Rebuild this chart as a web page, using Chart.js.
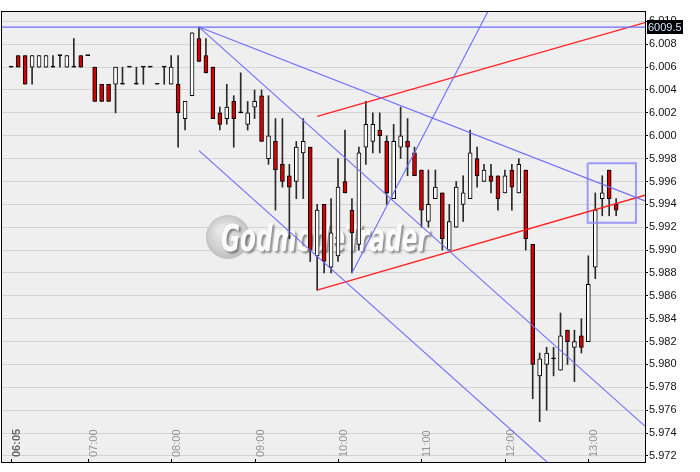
<!DOCTYPE html>
<html>
<head>
<meta charset="utf-8">
<script src="https://cdn.jsdelivr.net/npm/chart.js@4.4.0/dist/chart.umd.min.js"></script>
<style>
  html, body { margin: 0; padding: 0; background: #fff; }
  #wrap { width: 700px; height: 472px; }
</style>
</head>
<body>
<div id="wrap"><canvas id="chart" width="700" height="472"></canvas></div>
<script>
// 5 minute candles, 06:05 .. 13:20 (index 0 .. 87)
const opens = [6006, 6007, 6007, 6006, 6006, 6006, 6006, 6007, 6006, 6006, 6007, 6007,
  6006, 6004.5, 6004.5, 6004.5, 6004.5, 6006, 6004.5, 6006, 6006, 6004.5, 6006, 6004.5,
  6004.5, 6001.5, 6003.5, 6008.5, 6007, 6006, 6002, 6001.5, 6003, 6002, 6001, 6002.5,
  6003.5, 5998, 5999.5, 5997.5, 5996.5, 5996, 5998.5, 5999, 5989.5, 5994, 5988.5, 5989.5,
  5996, 5993.5, 5990.5, 5999, 5999.5, 6000.5, 5999.5, 5994.5, 5999, 5999.5, 5998.5, 5997,
  5992.5, 5994.5, 5995, 5990, 5992, 5994, 5994.5, 5998, 5996, 5996.5, 5996.5, 5995,
  5997, 5995, 5997, 5990.5, 5979, 5980, 5980.5, 5979.5, 5983, 5981.5, 5982.5, 5982,
  5988.5, 5994.5, 5997, 5994];
const highs = [6006, 6007, 6007, 6007, 6007, 6007, 6007, 6007, 6007, 6008.5, 6007, 6007,
  6006, 6004.5, 6004.5, 6006, 6006, 6006, 6006, 6006, 6006, 6004.5, 6006, 6007,
  6007, 6003, 6009, 6009.5, 6008.5, 6006, 6002.5, 6004.5, 6003.5, 6005.5, 6003, 6004,
  6004, 6003.5, 6001.5, 6001.5, 5997.5, 5999.5, 6001.5, 5999, 5994, 5994, 5994.5, 5998,
  6000.5, 5994.5, 5999, 6003, 6002, 6002, 6000, 6001, 6002.5, 6001.5, 5999, 5997,
  5997, 5997, 5995, 5994, 5996, 5996.5, 6000.5, 5999, 5997.5, 5997.5, 5996.5, 5997,
  5997.5, 5998, 5997, 5990.5, 5981, 5981.5, 5981.5, 5984.5, 5983, 5983, 5984, 5989.5,
  5995, 5996.5, 5997, 5994.5];
const lows = [6006, 6006, 6004.5, 6004.5, 6006, 6006, 6006, 6006, 6006, 6006, 6006, 6007,
  6003, 6003, 6003, 6002, 6004.5, 6006, 6004.5, 6004.5, 6006, 6004.5, 6004.5, 6004.5,
  5999, 6000.5, 6003.5, 6006.5, 6005.5, 6001.5, 6000.5, 6001, 5999, 6002, 6000.5, 6001.5,
  5999.5, 5997.5, 5993.5, 5995.5, 5991, 5994.5, 5994.5, 5989, 5986.5, 5988, 5988, 5989,
  5995, 5988, 5990, 5997.5, 5998.5, 5998.5, 5994, 5994.5, 5998, 5996.5, 5996.5, 5992,
  5992, 5994.5, 5990, 5990, 5992, 5992.5, 5994.5, 5995.5, 5996, 5995, 5993.5, 5995,
  5993.5, 5995, 5990, 5977, 5975, 5976, 5979, 5979.5, 5980, 5978.5, 5981, 5982,
  5987.5, 5993, 5993, 5993];
const closes = [6006, 6006, 6004.5, 6007, 6007, 6007, 6006, 6007, 6007, 6006, 6006, 6007,
  6003, 6003, 6003, 6006, 6004.5, 6006, 6004.5, 6006, 6006, 6004.5, 6006, 6006,
  6002, 6003, 6009, 6006.5, 6005.5, 6001.5, 6001, 6002.5, 6001.5, 6002, 6002, 6003,
  5999.5, 6000, 5997, 5996, 5995.5, 5999, 5999.5, 5990, 5993.5, 5989, 5991.5, 5995.5,
  5995, 5991.5, 5998.5, 6001, 6001, 6000, 5995, 5999.5, 6000, 5999, 5996.5, 5993.5,
  5994, 5995.5, 5991, 5992.5, 5995.5, 5995, 5998.5, 5996.5, 5997, 5996, 5994.5, 5996.5,
  5995.5, 5997.5, 5991, 5980, 5980.5, 5981, 5980.5, 5982.5, 5982, 5982, 5981.5, 5987,
  5993.5, 5995, 5994.5, 5993.5];

const timeLabels = ["06:05", "07:00", "08:00", "09:00", "10:00", "11:00", "12:00", "13:00"];
const timeIndex = [0, 11, 23, 35, 47, 59, 71, 83];
const priceTicks = [5972, 5974, 5976, 5978, 5980, 5982, 5984, 5986, 5988, 5990, 5992,
  5994, 5996, 5998, 6000, 6002, 6004, 6006, 6008, 6010];

// drawn objects, as [index, price] points
const lastPrice = 6009.5;
const levelLine = [[-1.33, 6009.5], [91.15, 6009.5]];
const fanFlat = [[27, 6009.5], [91.15, 5994.3]];
const fanSteep = [[27, 6009.5], [91.15, 5974.6]];
const fanSteepLow = [[27, 5998.7], [91.15, 5963.8]];
const riseLine = [[49, 5988], [75, 6018.4]];
const channelLow = [[44, 5986.5], [91.15, 5994.8]];
const channelHigh = [[44, 6001.7], [91.15, 6009.9]];
const boxX = [82.9, 89.85];
const boxY = [5992.4, 5997.6];

const pts = arr => arr.map(p => ({ x: p[0], y: p[1] }));
const fmt = v => {
  const s = String(Math.round(v));
  return s.slice(0, s.length - 3) + "." + s.slice(-3);
};

const BLUE = "#6c6cff";
const RED = "#ff2020";

function lineSet(data, color, width) {
  return {
    type: "line", data: pts(data), borderColor: color, borderWidth: width || 1.1,
    pointRadius: 0, fill: false, tension: 0, order: 0
  };
}

const bodyColors = opens.map((o, i) => closes[i] > o ? "#ffffff" : (closes[i] < o ? "#d40000" : "#000000"));

const decor = {
  id: "decor",
  beforeDraw(chart) {
    const { ctx, chartArea: a } = chart;
    ctx.save();
    ctx.fillStyle = "#efefef";
    ctx.fillRect(a.left, a.top, a.right - a.left, a.bottom - a.top);
    ctx.restore();
  },
  beforeDatasetsDraw(chart) {
    const { ctx, chartArea: a, scales } = chart;
    ctx.save();
    // watermark
    const g = ctx.createRadialGradient(222, 230, 4, 228, 237, 23);
    g.addColorStop(0, "#e6e6e6");
    g.addColorStop(0.75, "#cdcdcd");
    g.addColorStop(1, "#bababa");
    ctx.fillStyle = g;
    ctx.beginPath();
    ctx.arc(228, 237, 22, 0, Math.PI * 2);
    ctx.fill();
    ctx.font = 'italic bold 38px "DejaVu Sans Condensed", "DejaVu Sans"';
    const word = "GodmodeTrader";
    const w = ctx.measureText(word).width;
    ctx.translate(221, 251);
    ctx.scale(208 / w, 1);
    ctx.shadowColor = "rgba(0,0,0,0.4)";
    ctx.shadowOffsetX = 2;
    ctx.shadowOffsetY = 2;
    ctx.shadowBlur = 2;
    ctx.fillStyle = "#fbfbfb";
    ctx.fillText(word, 0, 0);
    ctx.restore();

    // time labels inside the plot
    ctx.save();
    ctx.strokeStyle = "#000";
    ctx.lineWidth = 1;
    timeIndex.forEach((idx, k) => {
      const x = Math.round(scales.x.getPixelForValue(idx)) + 0.5;
      ctx.beginPath();
      ctx.moveTo(x, a.bottom - 3);
      ctx.lineTo(x, a.bottom);
      ctx.stroke();
      ctx.save();
      ctx.translate(x + 5.5, a.bottom - 5);
      ctx.rotate(-Math.PI / 2);
      ctx.font = (k === 0 ? "bold " : "") + '11px "Liberation Sans", Arial';
      ctx.fillStyle = k === 0 ? "#666" : "#959595";
      ctx.textAlign = "left";
      ctx.textBaseline = "middle";
      ctx.fillText(timeLabels[k], 0, 0);
      ctx.restore();
    });
    ctx.restore();
  },
  afterDraw(chart) {
    const { ctx, chartArea: a, scales } = chart;
    ctx.save();
    ctx.strokeStyle = "#000";
    ctx.lineWidth = 1;
    ctx.strokeRect(a.left - 0.5, a.top - 0.5, a.right - a.left + 1, a.bottom - a.top + 1);
    // last price marker
    const y = Math.round(scales.y.getPixelForValue(lastPrice));
    ctx.fillStyle = "#000";
    ctx.fillRect(a.right + 2, y - 7, 36, 14);
    ctx.fillStyle = "#d8e6ff";
    ctx.font = '11px "Liberation Sans", Arial';
    ctx.textBaseline = "middle";
    ctx.textAlign = "left";
    ctx.fillText(String(lastPrice), a.right + 3, y + 0.5);
    ctx.restore();
  }
};

new Chart(document.getElementById("chart"), {
  type: "bar",
  data: {
    datasets: [
      lineSet(levelLine, BLUE),
      lineSet(fanFlat, BLUE),
      lineSet(fanSteep, BLUE),
      lineSet(fanSteepLow, BLUE),
      lineSet(riseLine, BLUE),
      lineSet(channelLow, RED, 1.3),
      lineSet(channelHigh, RED, 1.3),
      lineSet([[boxX[0], boxY[1]], [boxX[1], boxY[1]], [boxX[1], boxY[0]], [boxX[0], boxY[0]], [boxX[0], boxY[1]]],
        "rgba(140,140,255,0.85)", 2),
      {
        label: "body",
        data: opens.map((o, i) => ({ x: i, y: [o, closes[i]] })),
        backgroundColor: bodyColors,
        borderColor: "#000",
        borderWidth: 1,
        borderSkipped: false,
        barThickness: 4,
        minBarLength: 1,
        grouped: false,
        order: 1
      },
      {
        label: "wick",
        data: lows.map((l, i) => ({ x: i, y: [l, highs[i]] })),
        backgroundColor: "#2a2a2a",
        borderWidth: 0,
        barThickness: 1,
        grouped: false,
        order: 2
      }
    ]
  },
  options: {
    responsive: false,
    devicePixelRatio: 1,
    animation: false,
    layout: { padding: { left: 2, top: 12, bottom: 10, right: 0 } },
    plugins: { legend: { display: false }, tooltip: { enabled: false } },
    scales: {
      x: {
        type: "linear", display: false, offset: false,
        min: -1.33, max: 91.15,
        grid: { display: false }
      },
      y: {
        type: "linear", position: "right",
        min: 5971.47, max: 6010.82,
        afterBuildTicks: s => { s.ticks = priceTicks.map(v => ({ value: v })); },
        afterFit: s => { s.width = 55; },
        ticks: {
          font: { family: '"Liberation Sans", Arial', size: 11 },
          color: "#111", padding: 1,
          callback: v => fmt(v)
        },
        grid: { color: "#d4d4d4", tickLength: 3, tickColor: "#000" },
        border: { display: false }
      }
    }
  },
  plugins: [decor]
});
</script>
</body>
</html>
